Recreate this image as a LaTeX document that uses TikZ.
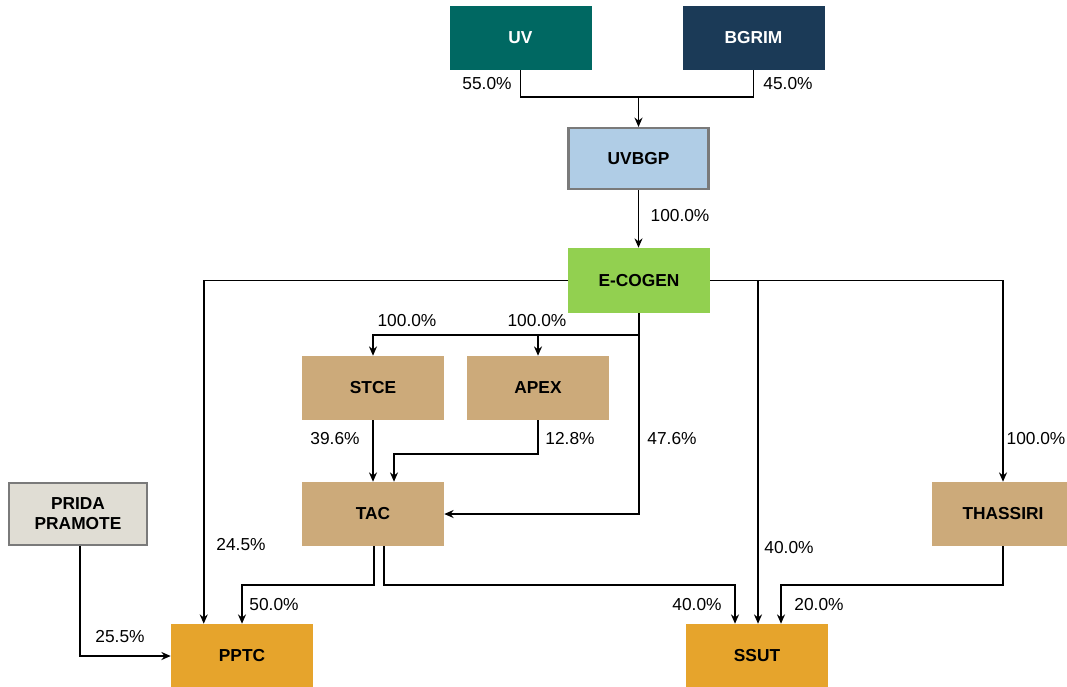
\documentclass[tikz,border=0pt]{standalone}
\usepackage{fontspec}
\setmainfont{Liberation Sans}
\usetikzlibrary{calc,arrows.meta}
\definecolor{uvc}{HTML}{006862}
\definecolor{bgc}{HTML}{1B3A57}
\definecolor{bluec}{HTML}{B0CDE6}
\definecolor{greenc}{HTML}{92D050}
\definecolor{tanc}{HTML}{CCAA7A}
\definecolor{orc}{HTML}{E6A42C}
\definecolor{pridac}{HTML}{E0DDD4}
\definecolor{bordc}{HTML}{7A7A7A}
\tikzset{
  box/.style={minimum width=142*0.75pt, minimum height=64*0.75pt, inner sep=0pt, align=center,
    font=\fontsize{13}{15}\selectfont\bfseries},
  pct/.style={font=\fontsize{13}{15}\selectfont, inner sep=0pt},
  conn/.style={line width=1.2pt},
  arr/.style={conn, -{Stealth[length=7pt,width=6pt]}}
}
\begin{document}
\begin{tikzpicture}[x=0.75pt,y=-0.75pt]
\useasboundingbox (0,0) rectangle (1067,686);
\clip (0,0) rectangle (1067,686);
% boxes
\node[box, fill=uvc, text=white] (UV) at (520.5,38) {UV};
\node[box, fill=bgc, text=white] (BGRIM) at (753.5,38) {BGRIM};
\node[box, fill=bluec, draw=bordc, line width=1.6pt, minimum width=140*0.75pt, minimum height=61*0.75pt] (UVBGP) at (638.5,158.5) {UVBGP};
\node[box, fill=greenc, minimum height=65*0.75pt] (ECOGEN) at (639,280.5) {E-COGEN};
\node[box, fill=tanc] (STCE) at (373,388) {STCE};
\node[box, fill=tanc] (APEX) at (538,388) {APEX};
\node[box, fill=tanc] (TAC) at (373,514) {TAC};
\node[box, fill=tanc] (THASSIRI) at (1003,514) {THASSIRI};
\node[box, fill=pridac, draw=bordc, line width=1.6pt, minimum width=138*0.75pt, minimum height=62*0.75pt] (PRIDA) at (78,514) {PRIDA\\PRAMOTE};
\node[box, fill=orc] (PPTC) at (242,656) {PPTC};
\node[box, fill=orc] (SSUT) at (757,656) {SSUT};
% connectors
\coordinate (j1) at ($(UVBGP.north)+(0,-30)$);
\draw[conn] (UV.south) |- (j1);
\draw[conn] (BGRIM.south) |- (j1);
\draw[arr] (j1) -- (UVBGP.north);
\draw[arr] (UVBGP.south) -- (UVBGP.south |- ECOGEN.north);
\draw[arr] (ECOGEN.west) -| ($(PPTC.north west)+(33,0)$);
\draw[arr] (ECOGEN.east) -| (THASSIRI.north);
\draw[arr] ($(SSUT.north |- ECOGEN.east)+(1,0)$) -- ($(SSUT.north)+(1,0)$);
\draw[arr] (ECOGEN.south) |- (TAC.east);
\coordinate (br) at ($(ECOGEN.south)+(0,22)$);
\draw[arr] (br) -| (STCE.north);
\draw[arr] (APEX.north |- br) -- (APEX.north);
\draw[arr] (STCE.south) -- (STCE.south |- TAC.north);
\draw[arr] (APEX.south) -- ++(0,34) -| ($(TAC.north)+(21,0)$);
\draw[arr] ($(TAC.south)+(1,0)$) -- ++(0,39) -| (PPTC.north);
\draw[arr] ($(TAC.south)+(11,0)$) -- ++(0,39) -| ($(SSUT.north)+(-22,0)$);
\draw[arr] (THASSIRI.south) -- ++(0,39) -| ($(SSUT.north)+(24,0)$);
\draw[arr] ($(PRIDA.south)+(2,0)$) |- (PPTC.west);
% labels
\node[pct] (l1) at (487,84) {55.0\%};
\node[pct] (l2) at (788,84) {45.0\%};
\node[pct] (l3) at (680,216) {100.0\%};
\node[pct] (l4) at (407,321) {100.0\%};
\node[pct] (l5) at (537,321) {100.0\%};
\node[pct] (l6) at (335,439) {39.6\%};
\node[pct] (l7) at (570,439) {12.8\%};
\node[pct] (l8) at (672,439) {47.6\%};
\node[pct] (l9) at (1036,439) {100.0\%};
\node[pct] (l10) at (241,545) {24.5\%};
\node[pct] (l11) at (789,548) {40.0\%};
\node[pct] (l12) at (274,605) {50.0\%};
\node[pct] (l13) at (697,605) {40.0\%};
\node[pct] (l14) at (819,605) {20.0\%};
\node[pct] (l15) at (120,637) {25.5\%};
\end{tikzpicture}
\end{document}
